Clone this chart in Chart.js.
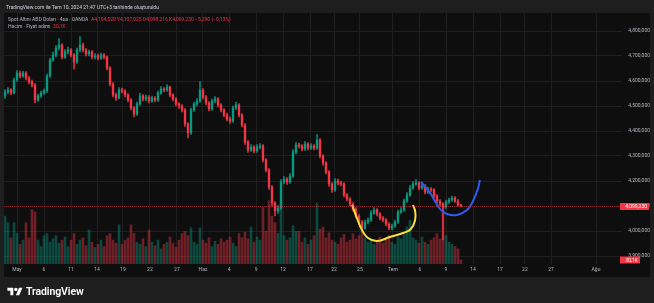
<!DOCTYPE html>
<html>
<head>
<meta charset="utf-8">
<script src="https://cdn.jsdelivr.net/npm/chart.js@4.4.1/dist/chart.umd.min.js"></script>
<style>
  html, body { margin: 0; padding: 0; background: #1e1e1e; }
  #wrap { position: relative; width: 654px; height: 303px; overflow: hidden; font-family: Roboto, "Liberation Sans", sans-serif; }
  #chart { position: absolute; left: 0; top: 0; }
  .title { position: absolute; left: 6px; top: 4px; font-size: 5px; line-height: 6px; color: #d1d4dc; white-space: nowrap; }
  .legend { position: absolute; left: 8px; font-size: 5px; line-height: 6px; color: #b2b5be; white-space: nowrap; }
  .red { color: #f23645; }
  .logo { position: absolute; left: 7px; top: 285px; color: #fff; font-size: 10.5px; font-weight: 600; display: flex; align-items: center; gap: 3px; letter-spacing: -0.1px; }
</style>
</head>
<body>
<div id="wrap">
  <canvas id="chart" width="654" height="303"></canvas>
  <div class="title">TradingView.com ile Tem 10, 2024 21:47 UTC+3 tarihinde oluşturuldu</div>
  <div class="legend" style="top:16px">Spot Altını ABD Doları · 4sa · OANDA&nbsp; <span class="red">A4,104,520 Y4,107,025 D4,098,216 K4,099,230 −5,290 (−0,13%)</span></div>
  <div class="legend" style="top:23px">Hacim · Fiyat adımı&nbsp; <span class="red">30,1K</span></div>
  <div class="logo">
    <svg width="16" height="11" viewBox="0 0 36 26"><path d="M14 22H7V11H0V4h14v18z" fill="#fff"/><circle cx="20" cy="8" r="4" fill="#fff"/><path d="M28 22h-8l7.5-18h8L28 22z" fill="#fff"/></svg>
    <span>TradingView</span>
  </div>
</div>
<script>
// 4h candles, prices in thousands (4556 = 4,556,000)
const firstOpen = 4540;
const closes = [
  4556, 4564, 4552, 4604, 4632, 4620, 4632, 4612, 4596, 4584,
  4524, 4540, 4552, 4560, 4620, 4684, 4704, 4732, 4744, 4696,
  4716, 4724, 4704, 4676, 4724, 4744, 4724, 4708, 4716, 4696,
  4700, 4692, 4704, 4696, 4652, 4588, 4544, 4532, 4564, 4560,
  4544, 4524, 4492, 4468, 4508, 4540, 4528, 4536, 4520, 4532,
  4524, 4552, 4568, 4564, 4576, 4544, 4528, 4508, 4500, 4484,
  4428, 4392, 4484, 4508, 4520, 4564, 4536, 4512, 4488, 4520,
  4528, 4504, 4484, 4464, 4448, 4440, 4492, 4504, 4464, 4424,
  4356, 4324, 4336, 4320, 4336, 4340, 4284, 4244, 4176, 4112,
  4080, 4092, 4196, 4208, 4196, 4220, 4316, 4344, 4340, 4328,
  4348, 4332, 4340, 4332, 4364, 4300, 4272, 4236, 4188, 4164,
  4200, 4192, 4188, 4144, 4128, 4108, 4088, 4060, 4036, 4012,
  4036, 4044, 4072, 4084, 4068, 4052, 4044, 4028, 4012, 4020,
  4036, 4076, 4084, 4120, 4144, 4172, 4188, 4192, 4172, 4180,
  4156, 4168, 4164, 4140, 4120, 4108, 4096, 4116, 4124, 4132,
  4120, 4104.52, 4099.23
];
const highs = [
  4566, 4574, 4570, 4612, 4642, 4640, 4640, 4638, 4618, 4604,
  4590, 4548, 4560, 4568, 4628, 4692, 4716, 4742, 4770, 4750,
  4726, 4736, 4730, 4710, 4732, 4778, 4752, 4730, 4724, 4722,
  4710, 4708, 4712, 4710, 4700, 4658, 4594, 4552, 4574, 4572,
  4566, 4550, 4530, 4498, 4516, 4552, 4546, 4544, 4542, 4540,
  4538, 4560, 4578, 4574, 4586, 4580, 4550, 4534, 4514, 4506,
  4490, 4434, 4492, 4516, 4530, 4598, 4570, 4542, 4518, 4528,
  4538, 4534, 4510, 4490, 4472, 4456, 4500, 4516, 4510, 4470,
  4430, 4362, 4346, 4342, 4346, 4350, 4346, 4290, 4250, 4182,
  4118, 4102, 4206, 4218, 4214, 4230, 4326, 4354, 4352, 4346,
  4358, 4354, 4350, 4346, 4386, 4370, 4306, 4278, 4242, 4194,
  4210, 4208, 4200, 4194, 4150, 4134, 4114, 4094, 4066, 4042,
  4044, 4052, 4082, 4094, 4090, 4074, 4058, 4050, 4034, 4028,
  4044, 4084, 4094, 4128, 4154, 4182, 4198, 4206, 4198, 4190,
  4186, 4176, 4174, 4170, 4146, 4126, 4114, 4124, 4132, 4140,
  4138, 4126, 4107.025
];
const lows = [
  4530, 4548, 4544, 4548, 4598, 4612, 4614, 4604, 4588, 4576,
  4512, 4518, 4534, 4546, 4554, 4614, 4678, 4696, 4724, 4688,
  4690, 4708, 4696, 4648, 4670, 4716, 4716, 4700, 4700, 4688,
  4688, 4684, 4686, 4688, 4644, 4580, 4536, 4522, 4528, 4552,
  4536, 4516, 4484, 4456, 4462, 4502, 4520, 4520, 4512, 4514,
  4516, 4518, 4546, 4556, 4558, 4536, 4520, 4500, 4490, 4476,
  4418, 4372, 4386, 4478, 4500, 4514, 4528, 4504, 4480, 4482,
  4512, 4496, 4476, 4456, 4440, 4430, 4434, 4486, 4456, 4416,
  4346, 4314, 4318, 4312, 4314, 4328, 4276, 4236, 4166, 4100,
  4060, 4070, 4086, 4188, 4186, 4190, 4214, 4308, 4332, 4320,
  4322, 4324, 4326, 4324, 4326, 4292, 4262, 4228, 4178, 4154,
  4158, 4184, 4180, 4136, 4120, 4100, 4080, 4052, 4026, 3996,
  4006, 4028, 4038, 4066, 4060, 4044, 4036, 4020, 4004, 4004,
  4014, 4030, 4070, 4078, 4114, 4138, 4166, 4182, 4164, 4166,
  4148, 4150, 4156, 4132, 4112, 4100, 3964, 4090, 4110, 4118,
  4114, 4100, 4098.216
];
// volume in thousands
const volumes = [
  359, 310, 196, 310, 228, 147, 179, 310, 196, 408,
  391, 179, 130, 212, 228, 163, 189, 212, 156, 179,
  202, 130, 179, 228, 147, 179, 196, 137, 254, 163,
  124, 147, 179, 130, 212, 228, 179, 156, 293, 147,
  179, 196, 293, 228, 163, 147, 189, 130, 254, 163,
  137, 179, 114, 147, 163, 202, 156, 124, 179, 228,
  245, 212, 271, 163, 147, 271, 179, 156, 196, 130,
  170, 147, 189, 163, 179, 202, 156, 130, 228, 196,
  238, 189, 277, 163, 202, 179, 424, 245, 473, 359,
  310, 228, 456, 212, 179, 196, 287, 245, 245, 163,
  196, 147, 179, 212, 456, 261, 277, 196, 235, 179,
  163, 147, 196, 222, 163, 179, 228, 189, 212, 245,
  196, 163, 189, 147, 179, 202, 156, 179, 215, 163,
  147, 202, 189, 228, 277, 326, 196, 179, 156, 202,
  163, 147, 179, 196, 228, 189, 430, 212, 163, 147,
  130, 114, 30.1
];
// hand drawn marks (bar index, price)
const yellowIdx = [115.7, 117.3, 119, 121, 124, 128.3, 132.7, 135.3, 136.7, 136.7, 136];
const yellowPx = [4104, 4052, 4004, 3972, 3960, 3976, 3992, 4008, 4044, 4080, 4104];
const blueIdx = [138.7, 141.7, 145, 147.3, 150.7, 154, 156, 157.7, 158.3];
const bluePx = [4196, 4152, 4088, 4068, 4064, 4084, 4120, 4172, 4204];

const priceTicks = [3900, 4000, 4100, 4200, 4300, 4400, 4500, 4600, 4700, 4800];
const timeTickAt = [4, 13, 22, 30.7, 39.3, 48.3, 57.3, 66, 74.7, 83.7, 92.7, 101.7, 109.7, 118.3, 129.3, 138.3, 147, 156, 165, 173.3, 182, 197];
const timeTickLabels = ['May', '6', '11', '14', '19', '22', '27', 'Haz', '4', '9', '12', '17', '22', '25', 'Tem', '6', '9', '14', '17', '22', '27', 'Ağu'];

const UP = '#089981', DOWN = '#f23645';
const UP_VOL = 'rgba(8,153,129,0.42)', DOWN_VOL = 'rgba(242,54,69,0.42)';
const GRID = '#1f1f1f';
const TEXT = '#b2b5be';

const opens = closes.map((c, i) => i === 0 ? firstOpen : closes[i - 1]);
const isUp = closes.map((c, i) => c >= opens[i]);
const candleColors = isUp.map(u => u ? UP : DOWN);
const volColors = isUp.map(u => u ? UP_VOL : DOWN_VOL);
const lastClose = closes[closes.length - 1];
const lastVol = volumes[volumes.length - 1];

const paneBg = {
  id: 'paneBg',
  beforeDraw(chart) {
    const c = chart.ctx;
    c.save();
    c.fillStyle = '#0e0e0e';
    c.fillRect(4, 13, 646, 264);
    c.restore();
  }
};

const priceMarks = {
  id: 'priceMarks',
  afterDraw(chart) {
    const c = chart.ctx, a = chart.chartArea;
    const y = Math.round(chart.scales.y.getPixelForValue(lastClose)) + 0.5;
    c.save();
    c.strokeStyle = 'rgba(242,54,69,0.5)';
    c.lineWidth = 1;
    c.setLineDash([1, 1]);
    c.beginPath();
    c.moveTo(a.left, y);
    c.lineTo(a.right, y);
    c.stroke();
    c.setLineDash([]);
    c.font = '5px Roboto, "Liberation Sans", sans-serif';
    c.textAlign = 'right';
    c.textBaseline = 'middle';
    c.fillStyle = DOWN;
    c.fillRect(620, y - 3.5, 29, 7);
    c.fillStyle = '#fff';
    c.fillText((lastClose * 1000).toLocaleString('en-US'), 647, y + 0.5);
    const vy = chart.scales.y2.getPixelForValue(lastVol);
    c.fillStyle = DOWN;
    c.fillRect(620, vy - 3.5, 20, 7);
    c.fillStyle = '#fff';
    c.fillText('30,1K', 638, vy + 0.5);
    c.restore();
  }
};

new Chart(document.getElementById('chart'), {
  type: 'bar',
  data: {
    datasets: [
      {
        type: 'line', data: yellowIdx.map((x, i) => ({ x, y: yellowPx[i] })),
        borderColor: '#f5e13a', borderWidth: 2, tension: 0.45, pointRadius: 0, order: 1, yAxisID: 'y'
      },
      {
        type: 'line', data: blueIdx.map((x, i) => ({ x, y: bluePx[i] })),
        borderColor: '#2f5bf0', borderWidth: 2, tension: 0.45, pointRadius: 0, order: 1, yAxisID: 'y'
      },
      {
        data: closes.map((c, i) => ({ x: i, y: [opens[i], c] })),
        backgroundColor: candleColors, barThickness: 1.7, minBarLength: 1, grouped: false, order: 2, yAxisID: 'y'
      },
      {
        data: closes.map((c, i) => ({ x: i, y: [lows[i], highs[i]] })),
        backgroundColor: candleColors, barThickness: 0.8, grouped: false, order: 3, yAxisID: 'y'
      },
      {
        data: volumes.map((v, i) => ({ x: i, y: v })),
        backgroundColor: volColors, barThickness: 2, grouped: false, order: 4, yAxisID: 'y2'
      }
    ]
  },
  options: {
    responsive: false,
    animation: false,
    devicePixelRatio: 1,
    layout: { padding: { left: 4, right: 4, top: 13, bottom: 26 } },
    plugins: { legend: { display: false }, tooltip: { enabled: false } },
    scales: {
      x: {
        type: 'linear', min: -1 / 3, max: 205 + 2 / 3, offset: false,
        afterBuildTicks: s => { s.ticks = timeTickAt.map(v => ({ value: v })); },
        afterFit: s => { s.height = 13; },
        ticks: {
          autoSkip: false, maxRotation: 0, color: TEXT, padding: 3,
          font: { size: 5, family: 'Roboto, "Liberation Sans", sans-serif' },
          callback: (v, i) => timeTickLabels[i]
        },
        grid: { color: GRID, drawTicks: false, offset: false },
        border: { display: false }
      },
      y: {
        position: 'right', min: 3868, max: 4872,
        afterBuildTicks: s => { s.ticks = priceTicks.map(v => ({ value: v })); },
        afterFit: s => { s.width = 28; },
        ticks: {
          color: TEXT, crossAlign: 'far', padding: 3,
          font: { size: 5, family: 'Roboto, "Liberation Sans", sans-serif' },
          callback: v => (v * 1000).toLocaleString('en-US')
        },
        grid: { color: GRID, drawTicks: false },
        border: { display: false }
      },
      y2: { display: false, min: 0, max: 1880 }
    }
  },
  plugins: [paneBg, priceMarks]
});
</script>
</body>
</html>
